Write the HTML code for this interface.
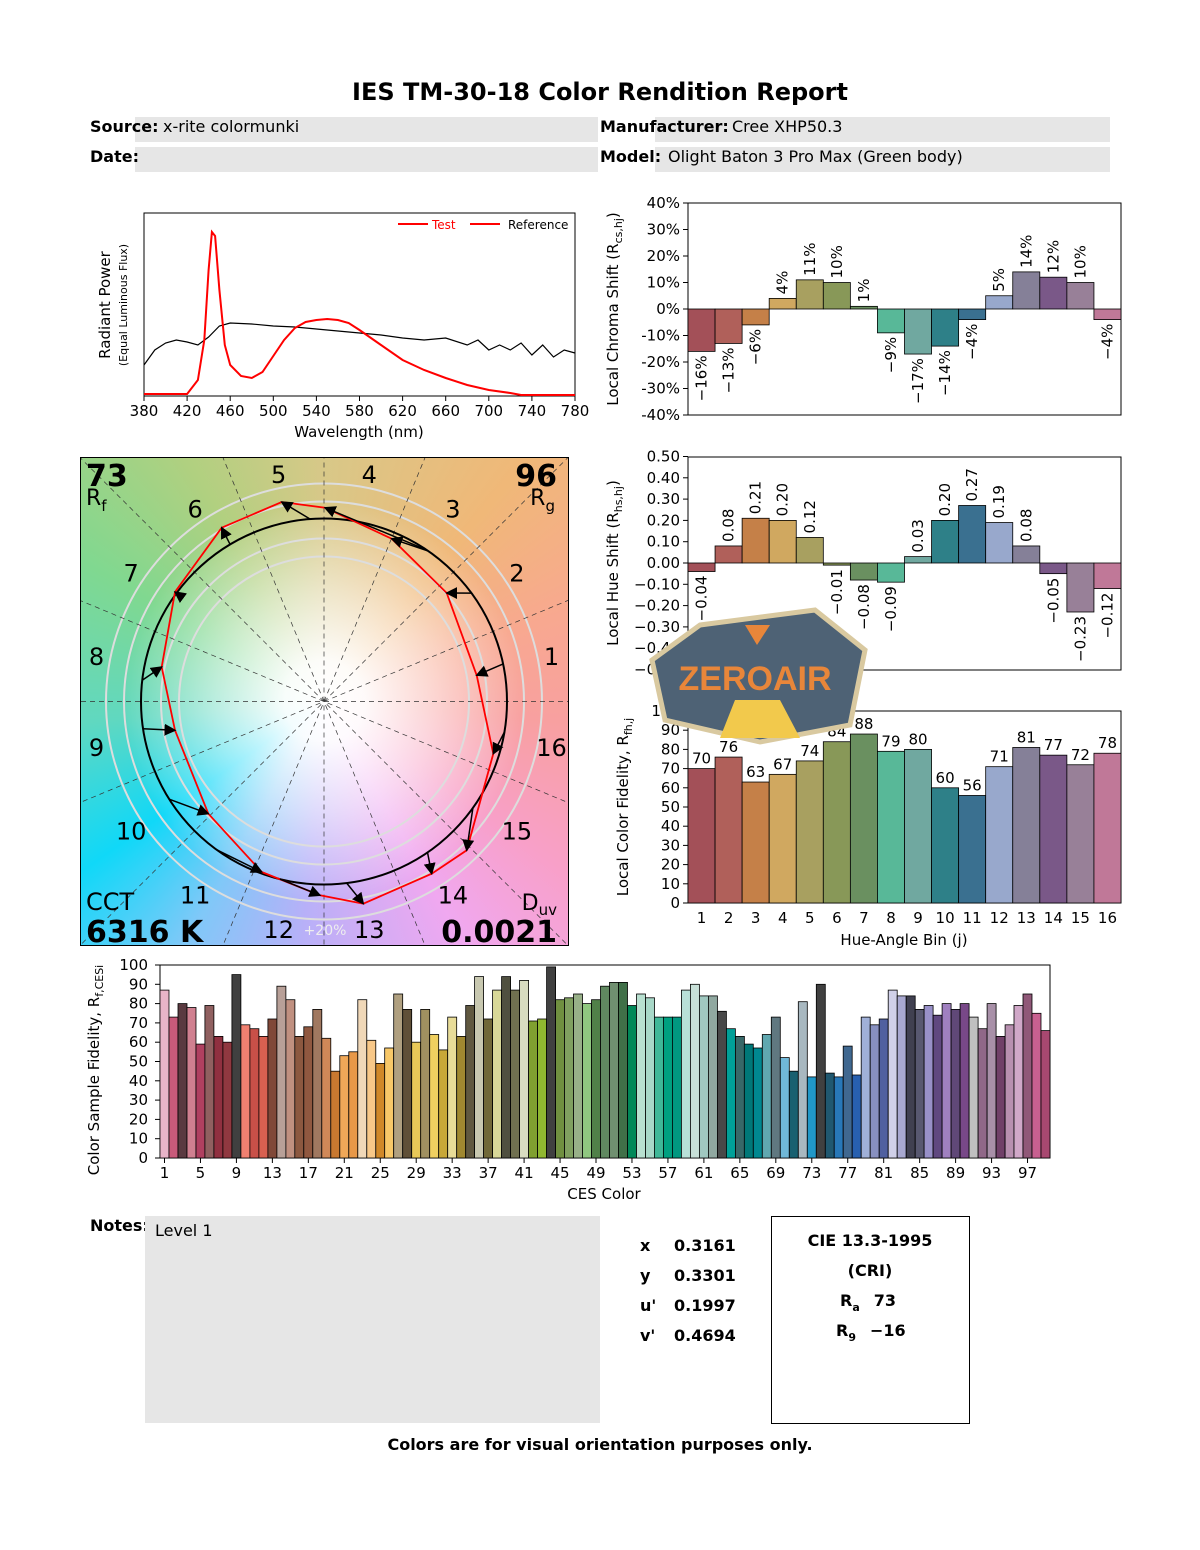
<!DOCTYPE html>
<html><head><meta charset="utf-8"><style>
body{margin:0;width:1200px;height:1550px;background:#fff;position:relative;overflow:hidden;font-family:"DejaVu Sans","Liberation Sans",sans-serif;}
#wheel{position:absolute;left:81px;top:458px;width:487px;height:487px;
background:radial-gradient(circle at 50% 50%,#fff 0px,rgba(255,255,255,0.95) 40px,rgba(255,255,255,0.55) 110px,rgba(255,255,255,0) 200px),
conic-gradient(from 0deg at 50% 50%,#d8c888 0deg,#f0b878 40deg,#f8a890 70deg,#f8a0a0 95deg,#f8a0c8 125deg,#f0a8f0 150deg,#b8b0f8 185deg,#80c8f8 210deg,#10d8f8 235deg,#60d8c0 265deg,#80d890 300deg,#b0d080 330deg,#d8c888 360deg);}
svg{position:absolute;left:0;top:0;}
</style></head><body>
<div id="wheel"></div>
<svg id="s" width="1200" height="1550" font-family="DejaVu Sans, Liberation Sans, sans-serif"></svg>
<script>
var o='';
function T(x,y,t,sz,a,extra){o+='<text x="'+x+'" y="'+y+'" font-size="'+(sz||15)+'" text-anchor="'+(a||'start')+'" '+(extra||'')+'>'+t+'</text>';}
function R(x,y,w,h,f,extra){o+='<rect x="'+x+'" y="'+y+'" width="'+w+'" height="'+h+'" fill="'+f+'" '+(extra||'')+'/>';}
function L(x1,y1,x2,y2,st,extra){o+='<line x1="'+x1+'" y1="'+y1+'" x2="'+x2+'" y2="'+y2+'" stroke="'+(st||'#000')+'" '+(extra||'')+'/>';}
T(600,100,'IES TM-30-18 Color Rendition Report',24,'middle','font-weight="bold"');
R(135,117,463,25,'#e6e6e6');R(135,147,463,25,'#e6e6e6');R(655,117,455,25,'#e6e6e6');R(655,147,455,25,'#e6e6e6');
T(90,132,'Source:',16,'start','font-weight="bold"');T(163,132,'x-rite colormunki',16);
T(90,162,'Date:',16,'start','font-weight="bold"');
T(600,132,'Manufacturer:',16,'start','font-weight="bold"');T(732,132,'Cree XHP50.3',16);
T(600,162,'Model:',16,'start','font-weight="bold"');T(668,162,'Olight Baton 3 Pro Max (Green body)',16);
R(144,213,431,183,'none','stroke="#000"');
function wx(w){return 144+(w-380)*1.0775;}
for(var w=380;w<=780;w+=40){L(wx(w),396,wx(w),401);T(wx(w),416,w,15,'middle');}
T(359,437,'Wavelength (nm)',15,'middle');
T(110,305,'Radiant Power',15,'middle','transform="rotate(-90 110 305)"');
T(127,305,'(Equal Luminous Flux)',11,'middle','transform="rotate(-90 127 305)"');
var red=[[380,394],[420,394],[430,380],[436,340],[440,270],[443,232],[446,236],[450,290],[455,345],[460,365],[470,376],[480,378],[490,372],[500,356],[510,340],[520,328],[530,322],[540,320],[550,319],[560,320],[570,323],[580,330],[600,345],[620,360],[640,370],[660,378],[680,385],[700,390],[720,393],[730,395],[780,395]];
var blk=[[380,365],[390,350],[400,343],[410,340],[420,342],[430,345],[440,337],[450,326],[460,323],[480,324],[500,326],[520,327],[540,329],[560,331],[580,333],[600,335],[620,338],[640,340],[660,338],[680,345],[690,340],[700,350],[710,345],[720,350],[730,343],[740,355],[750,345],[760,357],[770,350],[780,353]];
function pl(a,c,wd){o+='<polyline fill="none" stroke="'+c+'" stroke-width="'+wd+'" points="'+a.map(function(p){return wx(p[0]).toFixed(1)+','+p[1];}).join(' ')+'"/>';}
pl(blk,'#000',1.2);pl(red,'#f00',2);
L(398,224,428,224,'#f00','stroke-width="2"');T(432,229,'Test',12,'start','fill="#f00"');
L(470,224,500,224,'#f00','stroke-width="2"');T(508,229,'Reference',12);
var bc=['#a35058','#b0605a','#c58048','#d0a860','#a8a060','#889858','#6a9060','#58b898','#70a8a0','#2e8088','#3a7090','#98a8cc','#858098','#7a5888','#988098','#c07898'];
var bw=433/16;
R(688,203,433,212,'none','stroke="#000"');
var cs=[-16,-13,-6,4,11,10,1,-9,-17,-14,-4,5,14,12,10,-4];
for(var v=-40;v<=40;v+=10){var y=309-v*2.65;L(683,y,688,y);T(680,y+5,v+'%',15,'end');}
cs.forEach(function(v,i){var x=688+i*bw,y0=309,y1=309-v*2.65;R(x,Math.min(y0,y1),bw,Math.abs(y1-y0),bc[i],'stroke="#000" stroke-width="0.8"');
 var cx=x+bw/2+5;var lbl=(v<0?'−':'')+Math.abs(v)+'%';
 if(v>=0)T(cx,y1-4,lbl,15,'start','transform="rotate(-90 '+cx+' '+(y1-4)+')"');else T(cx,y1+4,lbl,15,'end','transform="rotate(-90 '+cx+' '+(y1+4)+')"');});
T(618,309,'Local Chroma Shift (R<tspan font-size="11" dy="4">cs,hj</tspan><tspan dy="-4">)</tspan>',15,'middle','transform="rotate(-90 618 309)"');
R(688,457,433,213,'none','stroke="#000"');
var hs=[-0.04,0.08,0.21,0.20,0.12,-0.01,-0.08,-0.09,0.03,0.20,0.27,0.19,0.08,-0.05,-0.23,-0.12];
for(var k=-5;k<=5;k++){var v=k/10,y=563-v*213;L(683,y,688,y);T(680,y+5,(v<0?'−':'')+Math.abs(v).toFixed(2),15,'end');}
hs.forEach(function(v,i){var x=688+i*bw,y1=563-v*213;R(x,Math.min(563,y1),bw,Math.abs(y1-563),bc[i],'stroke="#000" stroke-width="0.8"');
 var cx=x+bw/2+5;var lbl=(v<0?'−':'')+Math.abs(v).toFixed(2);
 if(v>=0)T(cx,y1-4,lbl,15,'start','transform="rotate(-90 '+cx+' '+(y1-4)+')"');else T(cx,y1+4,lbl,15,'end','transform="rotate(-90 '+cx+' '+(y1+4)+')"');});
T(618,563,'Local Hue Shift (R<tspan font-size="11" dy="4">hs,hj</tspan><tspan dy="-4">)</tspan>',15,'middle','transform="rotate(-90 618 563)"');
R(688,711,433,192,'none','stroke="#000"');
var fd=[70,76,63,67,74,84,88,79,80,60,56,71,81,77,72,78];
for(var v=0;v<=100;v+=10){var y=903-v*1.92;L(683,y,688,y);T(680,y+5,v,15,'end');}
fd.forEach(function(v,i){var x=688+i*bw,y1=903-v*1.92;R(x,y1,bw,903-y1,bc[i],'stroke="#000" stroke-width="0.8"');T(x+bw/2,y1-5,v,15,'middle');T(x+bw/2,923,i+1,15,'middle');});
T(904,945,'Hue-Angle Bin (j)',15,'middle');
T(628,807,'Local Color Fidelity, R<tspan font-size="11" dy="4">fh,j</tspan>',15,'middle','transform="rotate(-90 628 807)"');
// wheel
var cx=324,cy=701.5,RR=183;
o+='<defs><clipPath id="wc"><rect x="81" y="458" width="487" height="487"/></clipPath><marker id="ah" markerWidth="8" markerHeight="8" refX="7" refY="4" orient="auto"><path d="M0,0 L8,4 L0,8 z" fill="#000"/></marker></defs>';
o+='<g clip-path="url(#wc)">';
[145,163,200,218].forEach(function(r){o+='<circle cx="'+cx+'" cy="'+cy+'" r="'+r+'" fill="none" stroke="#ddd" stroke-width="2"/>';});
for(var k=0;k<8;k++){var a=k*22.5*Math.PI/180;var d=360;L(cx-d*Math.cos(a),cy+d*Math.sin(a),cx+d*Math.cos(a),cy-d*Math.sin(a),'#333','stroke-dasharray="5,4" stroke-width="0.7"');}
o+='</g>';
function z(p){return [(80+p[0]/3),(457+p[1]/3)];}
o+='<circle cx="'+cx+'" cy="'+cy+'" r="'+RR+'" fill="none" stroke="#000" stroke-width="2"/>';
var tst=[[1190,655],[1100,408],[935,245],[735,152],[605,135],[425,212],[285,405],[245,630],[285,820],[385,1070],[545,1245],[720,1315],[850,1340],[1055,1250],[1160,1180],[1240,890]];
o+='<polygon fill="none" stroke="#f00" stroke-width="1.8" points="'+tst.map(function(p){return z(p).map(function(v){return v.toFixed(1);}).join(',');}).join(' ')+'"/>';
var tails=[[1272,620],[1175,408],[1045,280],[1040,278],[690,185],[450,262],[285,405],[190,670],[190,815],[270,1025],[410,1180],[600,1265],[800,1278],[1045,1190],[1175,1050],[1275,825]];
tails.forEach(function(t,i){var a=z(t),b=z(tst[i]);var ang=Math.atan2(a[1]-cy,a[0]-cx);var ax=cx+RR*Math.cos(ang),ay=cy+RR*Math.sin(ang);
 o+='<line x1="'+ax.toFixed(1)+'" y1="'+ay.toFixed(1)+'" x2="'+b[0].toFixed(1)+'" y2="'+b[1].toFixed(1)+'" stroke="#000" stroke-width="1.5" marker-end="url(#ah)"/>';});
o+='<rect x="80.5" y="457.5" width="488" height="488" fill="none" stroke="#000"/>';
for(var j=1;j<=16;j++){var a=(j-0.5)*22.5*Math.PI/180;var r=232;T((cx+r*Math.cos(a)).toFixed(1),(cy-r*Math.sin(a)+9).toFixed(1),j,24,'middle');}
T(86,486,'73',30,'start','font-weight="bold"');T(86,505,'R<tspan font-size="15" dy="6">f</tspan>',22);
T(557,486,'96',30,'end','font-weight="bold"');T(555,505,'R<tspan font-size="15" dy="6">g</tspan>',22,'end');
T(86,910,'CCT',24);T(86,942,'6316 K',30,'start','font-weight="bold"');
T(557,910,'D<tspan font-size="15" dy="5">uv</tspan>',22,'end');T(557,942,'0.0021',30,'end','font-weight="bold"');
T(325,935,'+20%',14,'middle','fill="#eee"');
// watermark
o+='<g><polygon points="700,625 815,610 865,650 850,725 760,742 665,720 652,660" fill="#4e6275" stroke="#d9c9a0" stroke-width="5"/>';
o+='<polygon points="735,700 780,700 800,738 720,738" fill="#f2c94c"/><polygon points="745,625 770,625 757,645" fill="#e8863a"/>';
o+='<text x="755" y="690" font-size="34" font-weight="bold" text-anchor="middle" fill="#e8863a" font-family="Liberation Sans">ZEROAIR</text></g>';
// CES
R(160,965,890,193,'none','stroke="#000"');
var cv=[87,73,80,78,59,79,63,60,95,69,67,63,72,89,82,63,68,77,62,45,53,55,82,61,49,57,85,77,60,77,64,56,73,63,79,94,72,87,94,87,92,71,72,99,82,83,85,80,82,89,91,91,79,85,83,73,73,73,87,90,84,84,76,67,63,59,57,64,73,52,45,81,42,90,44,42,58,43,73,69,72,87,84,84,77,79,74,80,77,80,73,67,80,63,69,79,85,75,66];
var cc=['#e8b4c8','#c85a7a','#5a3a40','#d08090','#b04060','#906060','#903040','#903840','#404040','#f08070','#c85048','#d86050','#804838','#b8a098','#c09080','#8c5840','#905840','#a07860','#d08858','#c87830','#f0a858','#e89848','#f0d8b8','#f8c888','#d08828','#f8c868','#b0a080','#605038','#e8c858','#a09060','#f0d060','#c8a838','#e8dc98','#a08830','#605840','#c8c8b0','#706838','#d8d898','#505040','#707050','#d8dcc0','#80a030','#90b830','#404040','#709040','#80a060','#98b088','#90c880','#508048','#608860','#709070','#407048','#008858','#b8e0d0','#a8d8c8','#40b898','#00a080','#009880','#b8e0d8','#c8e0d8','#a0c8c0','#90a8a0','#484848','#00a098','#386868','#007878','#008890','#60a8b0','#607880','#70b8d8','#186070','#a8b8c0','#2098c8','#404040','#205870','#2878b8','#406890','#2860b0','#a0b0d8','#8890c0','#5060a0','#d0d0e8','#a8a8d0','#404050','#585870','#9890c8','#604880','#a080c0','#604878','#784888','#c0c0c0','#906888','#a890a8','#704068','#b890b0','#d0a8c8','#905878','#c86090','#a84870'];
var cw=890/99;
cv.forEach(function(v,i){var x=160+i*cw,y=1158-v*1.93;R(x.toFixed(1),y.toFixed(1),cw.toFixed(2),(v*1.93).toFixed(1),cc[i],'stroke="#000" stroke-width="0.8"');});
for(var v=0;v<=100;v+=10){var y=1158-v*1.93;L(155,y,160,y);T(148,y+5,v,15,'end');}
for(var i=1;i<=97;i+=4){var x=160+(i-0.5)*cw;L(x,1158,x,1163);T(x,1178,i,15,'middle');}
T(604,1199,'CES Color',15,'middle');
T(99,1070,'Color Sample Fidelity, R<tspan font-size="11" dy="4">f,CESi</tspan>',15,'middle','transform="rotate(-90 99 1070)"');
T(90,1231,'Notes:',16,'start','font-weight="bold"');R(145,1216,455,207,'#e6e6e6');T(155,1236,'Level 1',16);
[['x','0.3161'],['y','0.3301'],["u'",'0.1997'],["v'",'0.4694']].forEach(function(p,i){T(640,1251+i*30,p[0],16,'start','font-weight="bold"');T(674,1251+i*30,p[1],16,'start','font-weight="bold"');});
o+='<rect x="771.5" y="1216.5" width="198" height="207" fill="none" stroke="#000"/>';
T(870,1246,'CIE 13.3-1995',16,'middle','font-weight="bold"');T(870,1276,'(CRI)',16,'middle','font-weight="bold"');
T(840,1306,'R<tspan font-size="11" dy="5">a</tspan><tspan dy="-5" dx="14">73</tspan>',16,'start','font-weight="bold"');
T(836,1336,'R<tspan font-size="11" dy="5">9</tspan><tspan dy="-5" dx="14">−16</tspan>',16,'start','font-weight="bold"');
T(600,1450,'Colors are for visual orientation purposes only.',16,'middle','font-weight="bold"');
document.getElementById('s').innerHTML=o;
</script>
</body></html>
